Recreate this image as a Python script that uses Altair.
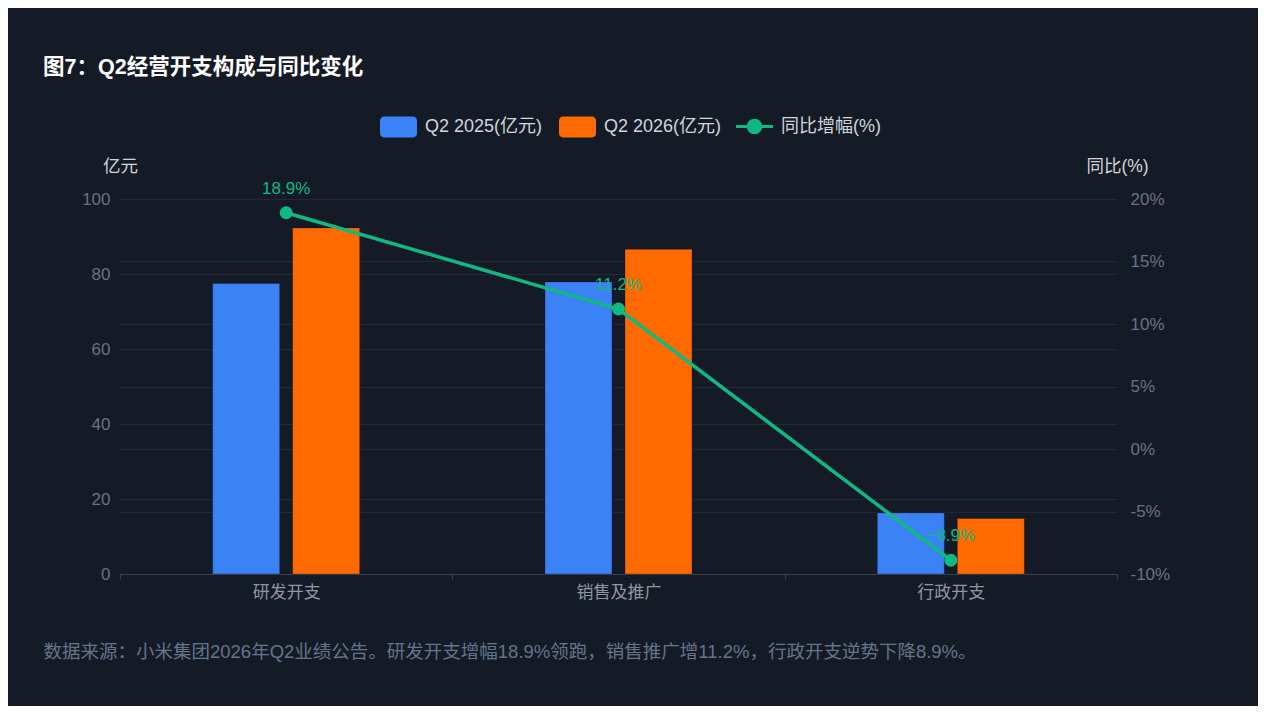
import altair as alt
import pandas as pd

categories = ["研发开支", "销售及推广", "行政开支"]
series_names = ["Q2 2025(亿元)", "Q2 2026(亿元)"]
q2_2025 = [77.5, 77.9, 16.3]
q2_2026 = [92.3, 86.6, 14.8]
yoy_pct = [18.9, 11.2, -8.9]
yoy_name = "同比增幅(%)"
left_ticks = [0, 20, 40, 60, 80, 100]
right_ticks = [-10, -5, 0, 5, 10, 15, 20]

title_text = "图7：Q2经营开支构成与同比变化"
footer_text = "数据来源：小米集团2026年Q2业绩公告。研发开支增幅18.9%领跑，销售推广增11.2%，行政开支逆势下降8.9%。"
left_title = "亿元"
right_title = "同比(%)"

FONT = "Liberation Sans, Noto Sans CJK SC, sans-serif"
BLUE = "#3b82f6"
ORANGE = "#ff6a00"
GREEN = "#10b981"
CARD_BG = "#151b26"
GRID = "#232a37"
AXIS_LINE = "#3a4252"

bars_df = pd.DataFrame({
    "cat": categories * 2,
    "series": [series_names[0]] * len(categories) + [series_names[1]] * len(categories),
    "value": q2_2025 + q2_2026,
})
line_df = pd.DataFrame({"cat": categories, "yoy": yoy_pct, "name": [yoy_name] * len(categories)})

RECT_PATH = ("M-0.78,-0.568 H0.78 A0.216,0.216 0 0 1 1,-0.352 V0.352 "
             "A0.216,0.216 0 0 1 0.78,0.568 H-0.78 A0.216,0.216 0 0 1 -1,0.352 "
             "V-0.352 A0.216,0.216 0 0 1 -0.78,-0.568 Z")
LINE_PATH = ("M-1,-0.085 H1 V0.085 H-1 Z "
             "M0.42,0 A0.42,0.42 0 1 1 -0.42,0 A0.42,0.42 0 1 1 0.42,0 Z")

x_enc = alt.X(
    "cat:N", sort=categories,
    scale=alt.Scale(paddingInner=0, paddingOuter=0),
    axis=alt.Axis(
        title=footer_text, titleX=-77, titleY=77, titleAlign="left", titleAngle=0,
        titleBaseline="middle", titleColor="#64748b", titleFontSize=18.5,
        titleFontWeight="normal", titleLimit=2000, titleFont=FONT,
        labelAngle=0, labelColor="#8f96a3", labelFontSize=17, labelPadding=5, labelFont=FONT,
        domainColor=AXIS_LINE, tickColor=AXIS_LINE, tickSize=5, tickBand="extent", grid=False,
    ),
)

y_left = alt.Y(
    "value:Q", scale=alt.Scale(domain=[0, 100], nice=False),
    axis=alt.Axis(
        values=left_ticks, domain=False, ticks=False, grid=True, gridColor=GRID,
        labelColor="#6b7280", labelFontSize=17, labelPadding=10, labelFont=FONT,
        title=left_title, titleAngle=0, titleX=0, titleY=-33, titleAlign="center",
        titleBaseline="middle", titleColor="#d1d5db", titleFontSize=17.5,
        titleFontWeight="normal", titleFont=FONT,
    ),
)

y_right = alt.Y(
    "yoy:Q", scale=alt.Scale(domain=[-10, 20], nice=False),
    axis=alt.Axis(
        orient="right", values=right_ticks, labelExpr="datum.value + '%'",
        domain=False, ticks=False, grid=True, gridColor=GRID,
        labelColor="#6b7280", labelFontSize=17, labelPadding=13, labelFont=FONT,
        title=right_title, titleAngle=0, titleX=0, titleY=-33, titleAlign="center",
        titleBaseline="middle", titleColor="#d1d5db", titleFontSize=17.5,
        titleFontWeight="normal", titleFont=FONT,
    ),
)

offset_domain = ["_pad_a"] + series_names + ["_pad_b"]

bars = alt.Chart(bars_df).mark_bar(stroke="#000000", strokeOpacity=0.25, strokeWidth=1).encode(
    x=x_enc,
    xOffset=alt.XOffset("series:N",
                        scale=alt.Scale(domain=offset_domain, paddingInner=0.1625, paddingOuter=0.158)),
    y=y_left,
    color=alt.Color(
        "series:N", sort=series_names,
        scale=alt.Scale(domain=series_names, range=[BLUE, ORANGE]),
        legend=alt.Legend(
            title=None, orient="none", legendX=260, legendY=-91, direction="horizontal",
            symbolType=RECT_PATH, symbolSize=1369, symbolStrokeWidth=0, symbolOpacity=1,
            labelOffset=8, columnPadding=15, labelFontSize=18, labelColor="#d1d5db",
            labelFont=FONT, padding=0, labelLimit=400,
        ),
    ),
)

line = alt.Chart(line_df).mark_line(color=GREEN, strokeWidth=3.5).encode(x=x_enc, y=y_right)

points = alt.Chart(line_df).mark_circle(size=170, opacity=1).encode(
    x=x_enc, y=y_right,
    fill=alt.Fill(
        "name:N", scale=alt.Scale(domain=[yoy_name], range=[GREEN]),
        legend=alt.Legend(
            title=None, orient="none", legendX=616, legendY=-91, direction="horizontal",
            symbolType=LINE_PATH, symbolSize=1369, symbolStrokeWidth=0, symbolOpacity=1,
            labelOffset=8, labelFontSize=18, labelColor="#d1d5db", labelFont=FONT,
            padding=0, labelLimit=400,
        ),
    ),
)

labels = alt.Chart(line_df).transform_calculate(
    label="format(datum.yoy, '.1f') + '%'"
).mark_text(dy=-24, color=GREEN, fontSize=17, font=FONT).encode(
    x=x_enc, y=y_right, text="label:N"
)

right_layer = alt.layer(line, points, labels)

chart = alt.layer(bars, right_layer).resolve_scale(y="independent").properties(
    width=997, height=375,
    title=alt.TitleParams(title_text, anchor="start", frame="group", dx=-77, dy=-30,
                          offset=0, fontSize=21.5, fontWeight="bold", color="#ffffff", font=FONT),
    padding={"left": 112, "top": 191, "right": 141, "bottom": 132},
    autosize=alt.AutoSizeParams(type="none"),
).configure(background=CARD_BG, font=FONT).configure_view(stroke=None)

chart.save("out.html", embed_options={"renderer": "svg", "actions": False})
